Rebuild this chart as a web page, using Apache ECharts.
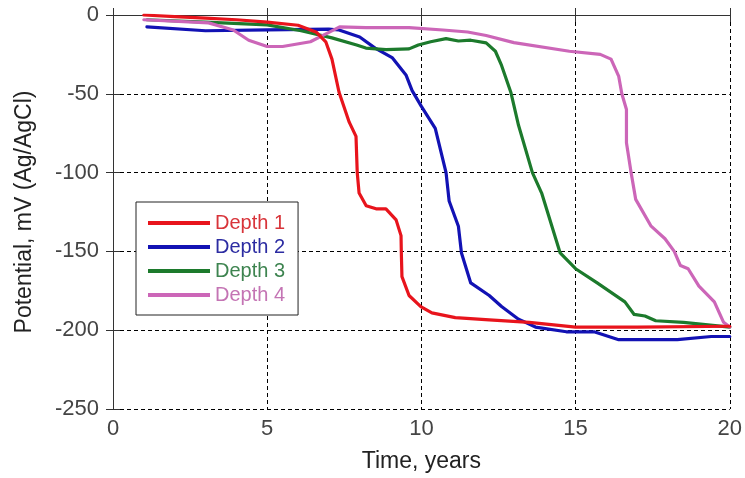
<!DOCTYPE html>
<html>
<head>
<meta charset="utf-8">
<script src="https://cdn.jsdelivr.net/npm/echarts@6/dist/echarts.min.js"></script>
<style>
html,body{margin:0;padding:0;background:#fff;}
#chart{width:745px;height:478px;}
</style>
</head>
<body>
<div id="chart"></div>
<script>
var seriesNames = ['Depth 1', 'Depth 2', 'Depth 3', 'Depth 4'];
var xTicks = [0, 5, 10, 15, 20];
var yTicks = [-250, -200, -150, -100, -50, 0];

var depth1 = [[1,0],[2,-1],[3,-2],[4,-3],[5,-4.5],[6,-6.5],[6.6,-11],[6.9,-17],[7.1,-28],[7.33,-49],[7.66,-68],[7.88,-77],[7.92,-100],[7.98,-113],[8.21,-121],[8.53,-123],[8.85,-123],[9.18,-130],[9.34,-140],[9.35,-151],[9.37,-166],[9.6,-178],[9.98,-185],[10.34,-189],[11.1,-192],[12.2,-193.5],[13.5,-195],[15,-198],[17,-198],[20,-197.5]];
var depth2 = [[1.1,-7.5],[3,-10],[5,-9.5],[7,-9],[7.33,-9.5],[8,-14],[8.5,-21],[9.05,-27],[9.5,-38],[9.7,-48],[10.0,-58],[10.45,-72],[10.8,-100],[10.9,-118],[11.2,-134],[11.3,-151],[11.6,-170],[12.2,-178],[12.6,-185],[13.15,-193],[13.7,-198],[14.7,-201],[15.6,-201],[16.4,-206],[18.3,-206],[19.4,-204],[20,-204]];
var depth3 = [[1.1,-3],[3,-4.5],[5,-6.3],[6.1,-10],[7.1,-14.5],[7.9,-19],[8.2,-21],[8.85,-22],[9.6,-21.5],[9.9,-19],[10.3,-17],[10.8,-15],[11.2,-16.5],[11.6,-16],[12.1,-17.7],[12.4,-23],[12.6,-32],[12.9,-49],[13.15,-70],[13.6,-100],[13.9,-113],[14.5,-151],[15,-161],[15.7,-170],[16.6,-182],[16.9,-190],[17.25,-191],[17.6,-194],[18.5,-195],[20,-198]];
var depth4 = [[1,-3],[3.1,-5],[3.9,-9.5],[4.4,-16],[5,-20],[5.5,-20],[6.4,-17],[7,-11],[7.35,-7.5],[8.2,-8],[9.6,-8],[10.7,-9.5],[11.5,-10.8],[12.1,-13],[13,-17.5],[14.8,-23],[15.8,-25],[16.15,-28],[16.4,-39],[16.5,-50],[16.65,-60],[16.65,-81],[16.8,-100],[16.95,-117],[17.45,-134],[17.9,-142],[18.2,-150],[18.4,-159],[18.65,-161],[19,-172],[19.5,-182],[19.8,-195],[20,-198]];

var lineColors = ['#e8141c', '#1212b4', '#1c7a2c', '#cc66b8'];
var textColors = ['#d8343a', '#2c2ca2', '#3e8450', '#c474b4'];
var allData = [depth1, depth2, depth3, depth4];

var FONT = '"Liberation Sans", Arial, sans-serif';
var chart = echarts.init(document.getElementById('chart'), null, {renderer: 'canvas'});

var gridDash = {color: '#000', width: 1, type: [4, 3]};

var option = {
  animation: false,
  backgroundColor: '#fff',
  grid: {left: 113, top: 15, right: 13, bottom: 68, show: false},
  legend: {
    orient: 'vertical',
    left: 136, top: 202,
    padding: [11, 13, 10, 12],
    itemGap: 4,
    itemWidth: 62,
    itemHeight: 4,
    icon: 'rect',
    backgroundColor: '#fff',
    borderColor: '#222',
    borderWidth: 1,
    borderRadius: 0,
    textStyle: {fontFamily: FONT, fontSize: 20, lineHeight: 20},
    data: seriesNames.map(function (n, i) {
      return {name: n, textStyle: {color: textColors[i]}};
    })
  },
  xAxis: [{
    type: 'value', min: xTicks[0], max: xTicks[xTicks.length - 1], interval: 5,
    name: 'Time, years', nameLocation: 'middle', nameGap: 41,
    nameTextStyle: {fontFamily: FONT, fontSize: 23, color: '#222'},
    axisLine: {show: true, lineStyle: {color: '#333', width: 1}},
    axisTick: {show: true, inside: true, length: 7, lineStyle: {color: '#333'}},
    axisLabel: {fontFamily: FONT, fontSize: 22, color: '#444', margin: 9},
    splitLine: {show: true, lineStyle: gridDash}
  }, {
    type: 'value', position: 'top', min: xTicks[0], max: xTicks[xTicks.length - 1], interval: 5,
    axisLine: {show: true, lineStyle: {color: '#333', width: 1}},
    axisTick: {show: true, inside: true, length: 7, lineStyle: {color: '#333'}},
    axisLabel: {show: false},
    splitLine: {show: false}
  }],
  yAxis: [{
    type: 'value', min: yTicks[0], max: yTicks[yTicks.length - 1], interval: 50,
    name: 'Potential, mV (Ag/AgCl)', nameLocation: 'middle', nameGap: 77,
    nameTextStyle: {fontFamily: FONT, fontSize: 23, color: '#222'},
    axisLine: {show: true, lineStyle: {color: '#333', width: 1}},
    axisTick: {show: true, inside: true, length: 7, lineStyle: {color: '#333'}},
    axisLabel: {fontFamily: FONT, fontSize: 22, color: '#444', margin: 14},
    splitLine: {show: true, lineStyle: gridDash}
  }, {
    type: 'value', position: 'right', min: yTicks[0], max: yTicks[yTicks.length - 1], interval: 50,
    axisLine: {show: true, lineStyle: {color: '#333', width: 1}},
    axisTick: {show: true, inside: true, length: 7, lineStyle: {color: '#333'}},
    axisLabel: {show: false},
    splitLine: {show: false}
  }],
  series: seriesNames.map(function (n, i) {
    return {
      name: n, type: 'line', data: allData[i],
      showSymbol: false, symbol: 'none',
      color: lineColors[i],
      lineStyle: {width: 3.2, color: lineColors[i], join: 'round', cap: 'round'},
      z: 3 + (i === 0 ? 1 : 0)
    };
  })
};
chart.setOption(option);
</script>
</body>
</html>
